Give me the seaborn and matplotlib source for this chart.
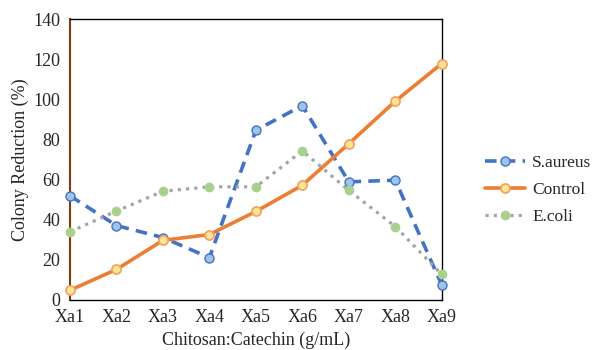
import matplotlib
matplotlib.use("Agg")
import matplotlib.pyplot as plt
import seaborn as sns
import pandas as pd

categories = ["Xa1", "Xa2", "Xa3", "Xa4", "Xa5", "Xa6", "Xa7", "Xa8", "Xa9"]
s_aureus = [51.8, 37.0, 31.0, 21.0, 84.5, 96.8, 58.8, 59.6, 7.4]
control = [4.7, 15.1, 29.6, 32.5, 44.0, 57.1, 77.8, 99.0, 117.8]
e_coli = [33.9, 44.2, 54.1, 56.3, 56.3, 74.2, 54.5, 36.5, 12.6]
y_ticks = [0, 20, 40, 60, 80, 100, 120, 140]

sns.set_theme(style="white")
plt.rcParams["font.family"] = ["Liberation Serif", "DejaVu Serif"]

fig = plt.figure(figsize=(5.92, 3.5), dpi=100)
ax = fig.add_axes([0.1182, 0.1437, 0.628, 0.802])

pos = list(range(len(categories)))
series = [
    ("S.aureus", s_aureus, dict(color="#4472C4", linestyle=(0, (3.2, 2.0)), linewidth=2.6,
                                marker="o", markersize=6.5, markerfacecolor="#9DC3E6",
                                markeredgecolor="#4472C4", markeredgewidth=1.0)),
    ("Control", control, dict(color="#ED7D31", linestyle="-", linewidth=2.6,
                              marker="o", markersize=6.5, markerfacecolor="#FFE699",
                              markeredgecolor="#F4A460", markeredgewidth=1.3)),
    ("E.coli", e_coli, dict(color="#A5A5A5", linestyle=(0, (1, 1.6)), linewidth=2.3,
                            marker="o", markersize=6, markerfacecolor="#A9D18E",
                            markeredgecolor="#A9D18E", markeredgewidth=1.0)),
]

for name, vals, kw in series:
    df = pd.DataFrame({"x": pos, "y": vals})
    sns.lineplot(data=df, x="x", y="y", ax=ax, label=name, clip_on=False, zorder=3, **kw)

ax.set_xlim(0, len(categories) - 1)
ax.set_ylim(0, 140)
ax.set_xticks(pos)
ax.set_xticklabels(categories)
ax.set_yticks(y_ticks)
ax.tick_params(axis="x", length=0, labelsize=13, pad=7)
ax.tick_params(axis="y", length=3, width=1, color="#843C0C", direction="out", labelsize=13, pad=4)
ax.set_xlabel("Chitosan:Catechin (g/mL)", fontsize=13, labelpad=4)
ax.set_ylabel("Colony Reduction (%)", fontsize=13, labelpad=3)

for side in ["top", "right", "bottom"]:
    ax.spines[side].set_visible(True)
    ax.spines[side].set_color("black")
    ax.spines[side].set_linewidth(1.0)
ax.spines["left"].set_color("#843C0C")
ax.spines["left"].set_linewidth(1.5)

ax.legend(loc="center left", bbox_to_anchor=(1.075, 0.39), frameon=False,
          fontsize=12.5, handlelength=2.3, handletextpad=0.4, labelspacing=0.62)

fig.savefig("out.png", dpi=100)
